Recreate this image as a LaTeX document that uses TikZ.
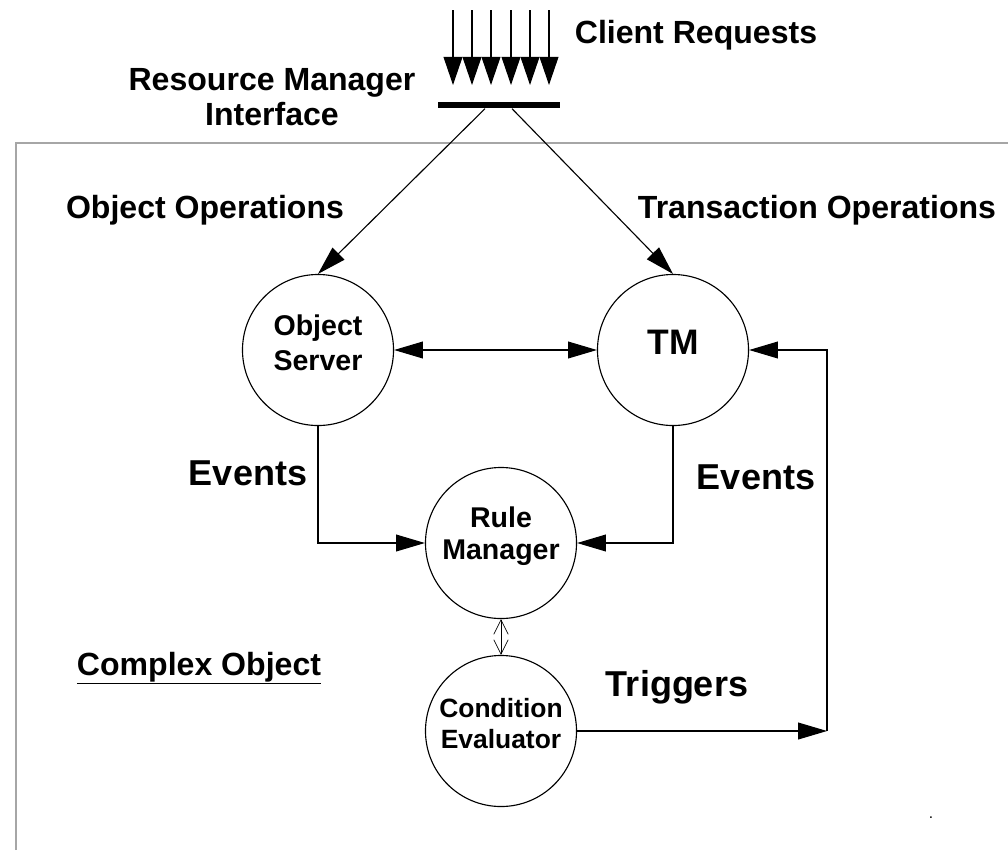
\documentclass[tikz,border=0pt]{standalone}
\usepackage{fontspec}
\setmainfont{Liberation Sans}
\usetikzlibrary{arrows.meta,positioning}

\begin{document}
\begin{tikzpicture}[x=0.025cm,y=-0.025cm,
	crc/.style={draw,circle,minimum size=3.775cm,inner sep=0pt,line width=0.8pt},
	ctxt/.style={yshift=0.18cm,align=center,font=\bfseries\fontsize{20.3}{24.9}\selectfont},
	lbl/.style={anchor=base,align=center,font=\bfseries\fontsize{22.8}{24.9}\selectfont},
	big/.style={anchor=base,font=\bfseries\fontsize{25.6}{30}\selectfont},
	ln/.style={line width=0.8pt},
	tri/.style={-{Triangle[length=0.72cm,width=0.42cm]}}]
	\useasboundingbox (0,0) rectangle (1008,850);
	\draw[gray!70,line width=1.3pt] (16,850) -- (16,143) -- (1008,143);
	\foreach \x [count=\i] in {453,472,491,511,530,549}
		{\coordinate (rq\i) at (\x,10);
		\draw[ln,-{Triangle[length=0.7cm,width=0.47cm]}] (rq\i) -- ++(0,75);}
	\node[fill=black,minimum width=3.05cm,minimum height=0.17cm,inner sep=0pt] (bar) at (499,105) {};
	\node[lbl] (creq) at (696,43) {Client Requests};
	\node[lbl,anchor=center] (rmi) at (272,97) {Resource Manager\\Interface};
	\node[lbl] (oop) at (205,218) {Object Operations};
	\node[lbl] (trop) at (817,218) {Transaction Operations};
	\node[crc,label={[ctxt]center:{Object\\Server}}] (os) at (318,350) {};
	\node[crc,label={[ctxt,font=\bfseries\fontsize{25.2}{30}\selectfont]center:TM}] (tm) at (673,350) {};
	\node[crc,label={[ctxt,font=\bfseries\fontsize{20.3}{22.8}\selectfont]center:{Rule\\Manager}}] (rm) at (501,543) {};
	\node[crc,label={[ctxt,font=\bfseries\fontsize{18.8}{22}\selectfont]center:{Condition\\Evaluator}}] (ce) at (501,731) {};
	\node[big] (evl) at (248,485) {Events};
	\node[big] (evr) at (756,489) {Events};
	\node[big] (trg) at (677,696) {Triggers};
	\node[lbl] (cobj) at (199,675) {\underline{Complex Object}};
	\node[anchor=base,font=\fontsize{11}{12}\selectfont] (dot) at (931,818) {.};
	\coordinate (crn) at (827,731);
	\draw[ln,tri] ([xshift=-0.35cm]bar.south) -- (os.north);
	\draw[ln,tri] ([xshift=0.325cm]bar.south) -- (tm.north);
	\draw[ln,{Triangle[length=0.72cm,width=0.42cm]}-{Triangle[length=0.72cm,width=0.42cm]}] (os.east) -- (tm.west);
	\draw[ln,tri] (os.south) |- (rm.west);
	\draw[ln,tri] (tm.south) |- (rm.east);
	\draw[line width=0.5pt,{Straight Barb[length=0.36cm,width=0.36cm]}-{Straight Barb[length=0.36cm,width=0.36cm]}] (rm.south) -- (ce.north);
	\draw[ln,tri] (ce.east) -- (crn);
	\draw[ln,tri] (crn) |- (tm.east);
\end{tikzpicture}
\end{document}
